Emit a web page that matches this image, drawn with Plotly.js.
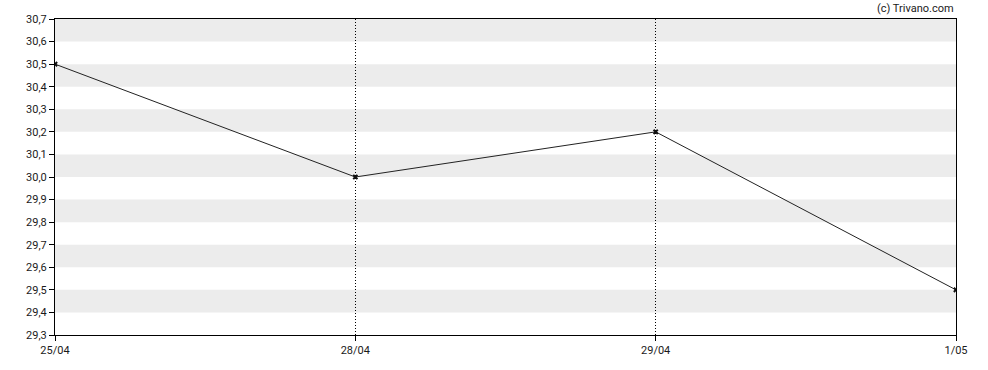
<!DOCTYPE html>
<html><head><meta charset="utf-8">
<script src="https://cdn.plot.ly/plotly-3.0.1.min.js"></script>
<style>html,body{margin:0;padding:0;background:#fff}#chart{width:988px;height:370px}</style>
</head><body><div id="chart"></div>
<script>
const dates = ["25/04", "28/04", "29/04", "1/05"];
const prices = [30.5, 30.0, 30.2, 29.5];
const yTicks = [29.3, 29.4, 29.5, 29.6, 29.7, 29.8, 29.9, 30.0, 30.1, 30.2, 30.3, 30.4, 30.5, 30.6, 30.7];
const bandStarts = [29.4, 29.6, 29.8, 30.0, 30.2, 30.4, 30.6];

const shapes = bandStarts.map(b => ({
  type: 'rect', xref: 'paper', yref: 'y', x0: 0, x1: 1, y0: b, y1: b + 0.1,
  fillcolor: '#ececec', line: {width: 0}, layer: 'below'
}));

const trace = {
  x: dates, y: prices, type: 'scatter', mode: 'lines+markers',
  line: {color: '#222', width: 1},
  marker: {symbol: 'x', size: 5, color: '#111', line: {width: 0}},
  hoverinfo: 'skip'
};

const layout = {
  width: 988, height: 370,
  margin: {l: 55, r: 32, t: 19, b: 35},
  paper_bgcolor: '#fff', plot_bgcolor: '#fff',
  font: {family: 'Roboto, Arial, sans-serif', size: 11, color: '#1a1a1a'},
  showlegend: false,
  xaxis: {
    type: 'category', range: [0, 3], showgrid: true, gridcolor: '#000', griddash: '1px,2px', gridwidth: 1,
    showline: true, linecolor: '#000', linewidth: 1, mirror: true,
    ticks: 'outside', ticklen: 5, tickcolor: '#000', zeroline: false, fixedrange: true
  },
  yaxis: {
    range: [29.3, 30.7], tickvals: yTicks, ticktext: yTicks.map(v => v.toFixed(1).replace('.', ',')),
    showgrid: false, showline: true, linecolor: '#000', linewidth: 1, mirror: true,
    ticks: 'outside', ticklen: 5, tickcolor: '#000', zeroline: false, fixedrange: true
  },
  shapes: shapes,
  annotations: [{
    xref: 'paper', yref: 'paper', x: 1, y: 1, xanchor: 'right', yanchor: 'bottom', yshift: 2,
    text: '(c) Trivano.com', showarrow: false, font: {size: 11, color: '#1a1a1a'}
  }]
};

Plotly.newPlot('chart', [trace], layout, {staticPlot: true, displayModeBar: false});
</script></body></html>
